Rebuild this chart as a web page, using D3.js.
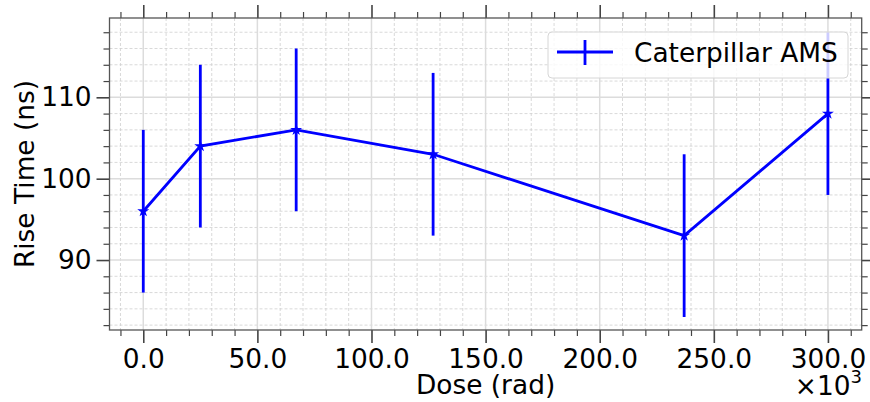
<!DOCTYPE html>
<html>
<head>
<meta charset="utf-8">
<script src="https://cdn.jsdelivr.net/npm/d3@7"></script>
<style>
  html, body { margin: 0; padding: 0; background: #fff; }
  svg { display: block; font-family: "DejaVu Sans", sans-serif; }
</style>
</head>
<body>
<svg id="chart" width="870" height="402"></svg>
<script>
// ---- data ----
const doses = [0, 25000, 67000, 127000, 237000, 300000];
const riseTimes = [96, 104, 106, 103, 93, 108];
const riseErrors = [10, 10, 10, 10, 10, 10];
const seriesName = "Caterpillar AMS";
const xMajorTicks = [0, 50000, 100000, 150000, 200000, 250000, 300000];
const yMajorTicks = [90, 100, 110];
const xLabel = "Dose (rad)";
const yLabel = "Rise Time (ns)";

// ---- layout ----
const svg = d3.select("#chart");
const FS = 26.4;
const pL = 109.5, pR = 861.7, pT = 18, pB = 330;
const x = d3.scaleLinear().domain([-14800, 314800]).range([pL, pR]);
const y = d3.scaleLinear().domain([81.4, 119.75]).range([pB, pT]);

const xMinor = d3.range(-10000, 314000, 10000).filter(v => !xMajorTicks.includes(v));
const yMinor = d3.range(82, 120, 2).filter(v => !yMajorTicks.includes(v));

const g = svg.append("g");

// grid: minor dashed
g.append("g").selectAll("line").data(xMinor).join("line")
  .attr("x1", d => x(d)).attr("x2", d => x(d)).attr("y1", pT).attr("y2", pB)
  .attr("stroke", "#cfcfcf").attr("stroke-width", 0.8).attr("stroke-dasharray", "3,2");
g.append("g").selectAll("line").data(yMinor).join("line")
  .attr("y1", d => y(d)).attr("y2", d => y(d)).attr("x1", pL).attr("x2", pR)
  .attr("stroke", "#cfcfcf").attr("stroke-width", 0.8).attr("stroke-dasharray", "3,2");
// grid: major solid
g.append("g").selectAll("line").data(xMajorTicks).join("line")
  .attr("x1", d => x(d)).attr("x2", d => x(d)).attr("y1", pT).attr("y2", pB)
  .attr("stroke", "#dcdcdc").attr("stroke-width", 1.5);
g.append("g").selectAll("line").data(yMajorTicks).join("line")
  .attr("y1", d => y(d)).attr("y2", d => y(d)).attr("x1", pL).attr("x2", pR)
  .attr("stroke", "#dcdcdc").attr("stroke-width", 1.5);

// axes with d3 axis generators
function styleAxis(sel, width) {
  sel.select(".domain").remove();
  sel.selectAll(".tick line").attr("stroke", "#444").attr("stroke-width", width);
}
const majLen = 13, minLen = 6;
// bottom
g.append("g").attr("transform", `translate(0,${pB})`)
  .call(d3.axisBottom(x).tickValues(xMajorTicks).tickSize(majLen).tickPadding(6)
        .tickFormat(d => (d / 1000).toFixed(1)))
  .call(s => styleAxis(s, 1.6))
  .call(s => s.selectAll("text").attr("font-size", FS).attr("fill", "#000")
        .attr("font-family", "DejaVu Sans"));
g.append("g").attr("transform", `translate(0,${pB})`)
  .call(d3.axisBottom(x).tickValues(xMinor).tickSize(minLen).tickFormat(""))
  .call(s => styleAxis(s, 1.2));
// top
g.append("g").attr("transform", `translate(0,${pT})`)
  .call(d3.axisTop(x).tickValues(xMajorTicks).tickSize(majLen).tickFormat(""))
  .call(s => styleAxis(s, 1.6));
g.append("g").attr("transform", `translate(0,${pT})`)
  .call(d3.axisTop(x).tickValues(xMinor).tickSize(minLen).tickFormat(""))
  .call(s => styleAxis(s, 1.2));
// left
g.append("g").attr("transform", `translate(${pL},0)`)
  .call(d3.axisLeft(y).tickValues(yMajorTicks).tickSize(majLen).tickPadding(5)
        .tickFormat(d3.format("d")))
  .call(s => styleAxis(s, 1.6))
  .call(s => s.selectAll("text").attr("font-size", FS).attr("fill", "#000")
        .attr("font-family", "DejaVu Sans"));
g.append("g").attr("transform", `translate(${pL},0)`)
  .call(d3.axisLeft(y).tickValues(yMinor).tickSize(minLen).tickFormat(""))
  .call(s => styleAxis(s, 1.2));
// right
g.append("g").attr("transform", `translate(${pR},0)`)
  .call(d3.axisRight(y).tickValues(yMajorTicks).tickSize(majLen).tickFormat(""))
  .call(s => styleAxis(s, 1.6));
g.append("g").attr("transform", `translate(${pR},0)`)
  .call(d3.axisRight(y).tickValues(yMinor).tickSize(minLen).tickFormat(""))
  .call(s => styleAxis(s, 1.2));

// spines
g.append("rect").attr("x", pL).attr("y", pT)
  .attr("width", pR - pL).attr("height", pB - pT)
  .attr("fill", "none").attr("stroke", "#555").attr("stroke-width", 1.3);

// data
const pts = doses.map((d, i) => ({ x: d, y: riseTimes[i], e: riseErrors[i] }));
const blue = "#0000ff";
g.append("path").datum(pts)
  .attr("d", d3.line().x(d => x(d.x)).y(d => y(d.y)))
  .attr("fill", "none").attr("stroke", blue).attr("stroke-width", 2.8);
g.append("g").selectAll("line").data(pts).join("line")
  .attr("x1", d => x(d.x)).attr("x2", d => x(d.x))
  .attr("y1", d => y(d.y - d.e)).attr("y2", d => y(d.y + d.e))
  .attr("stroke", blue).attr("stroke-width", 2.8);
g.append("g").selectAll("path").data(pts).join("path")
  .attr("transform", d => `translate(${x(d.x)},${y(d.y)})`)
  .attr("d", d3.symbol(d3.symbolStar, 45))
  .attr("fill", blue);

// legend
const lg = g.append("g");
lg.append("rect").attr("x", 548).attr("y", 32).attr("width", 300).attr("height", 46)
  .attr("rx", 4).attr("fill", "#fff").attr("fill-opacity", 0.8)
  .attr("stroke", "#d6d6d6").attr("stroke-width", 1);
lg.append("line").attr("x1", 557).attr("x2", 613).attr("y1", 52).attr("y2", 52)
  .attr("stroke", blue).attr("stroke-width", 2.8);
lg.append("line").attr("x1", 585).attr("x2", 585).attr("y1", 40).attr("y2", 65)
  .attr("stroke", blue).attr("stroke-width", 2.8);
lg.append("text").attr("x", 634).attr("y", 62).attr("font-size", FS)
  .attr("fill", "#000").text(seriesName);

// axis labels
svg.append("text").attr("x", (pL + pR) / 2).attr("y", 394)
  .attr("text-anchor", "middle").attr("font-size", FS).attr("fill", "#000").text(xLabel);
svg.append("text").attr("transform", `translate(34,${(pT + pB) / 2}) rotate(-90)`)
  .attr("text-anchor", "middle").attr("font-size", FS).attr("fill", "#000").text(yLabel);
// offset text
const off = svg.append("text").attr("x", 862).attr("y", 395)
  .attr("text-anchor", "end").attr("font-size", FS).attr("fill", "#000");
off.append("tspan").text("×10");
off.append("tspan").attr("dy", -12).attr("font-size", 18).text("3");
</script>
</body>
</html>
